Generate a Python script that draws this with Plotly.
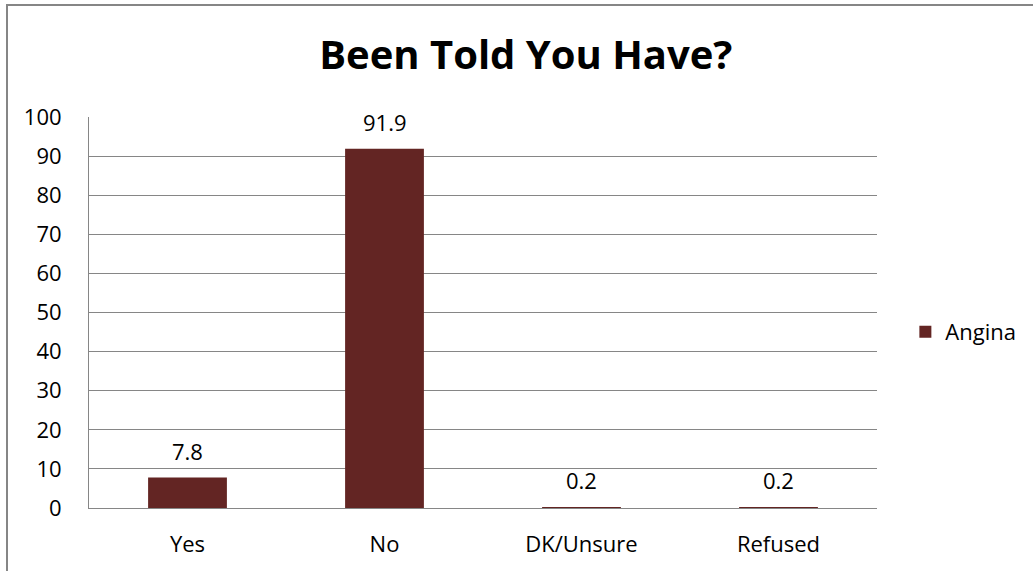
import plotly.graph_objects as go

categories = ["Yes", "No", "DK/Unsure", "Refused"]
values = [7.8, 91.9, 0.2, 0.2]
series_name = "Angina"
title_text = "Been Told You Have?"
y_ticks = [0, 10, 20, 30, 40, 50, 60, 70, 80, 90, 100]

FONT = "Open Sans, Liberation Sans, sans-serif"
BAR = "#632523"
GRID = "#868686"

fig = go.Figure()
fig.add_trace(go.Bar(
    x=categories, y=values, name=series_name,
    marker=dict(color=BAR, line=dict(width=0)),
    width=0.4, showlegend=True,
))

for c, v in zip(categories, values):
    fig.add_annotation(x=c, y=v, text=f"{v:g}", showarrow=False,
                       yanchor="bottom", yshift=10,
                       font=dict(family=FONT, size=22, color="#000"))

fig.update_layout(
    width=1033, height=571,
    margin=dict(l=89, r=156, t=117, b=63),
    paper_bgcolor="white", plot_bgcolor="white",
    font=dict(family=FONT, size=22, color="#000"),
    title=dict(text=f"<b>{title_text}</b>", x=0.509, xanchor="center",
               y=1 - 55 / 571, yanchor="middle",
               font=dict(family=FONT, size=40, color="#000")),
    showlegend=True,
    legend=dict(x=1.036, xanchor="left", y=0.45, yanchor="middle",
                font=dict(family=FONT, size=22, color="#000"),
                bgcolor="rgba(0,0,0,0)"),
    xaxis=dict(showgrid=False, showline=True, linecolor=GRID, linewidth=1,
               ticks="", ticklabelstandoff=17, fixedrange=True),
    yaxis=dict(range=[0, 100], tickvals=y_ticks, showgrid=True,
               gridcolor=GRID, gridwidth=1, showline=True, linecolor=GRID,
               linewidth=1, ticks="", ticklabelstandoff=22, zeroline=False),
    bargap=0.6,
)

fig.add_shape(type="rect", xref="paper", yref="paper",
              x0=(7 - 89) / 788, x1=1.4, y0=-0.6, y1=(508 - 5) / 391,
              line=dict(color=GRID, width=2), fillcolor="rgba(0,0,0,0)",
              layer="below")

fig.write_html("out.html")
